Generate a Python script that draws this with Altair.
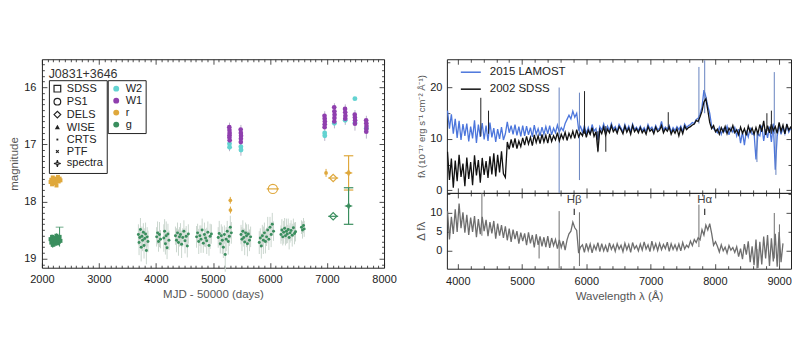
import altair as alt
import pandas as pd

FONT = "Liberation Sans"

# ---------------- Left panel: light curve of J0831+3646 ----------------
crts_mjd = [
    3692, 3704, 3716, 3728, 3741, 3753, 3766, 3779, 3791, 3804, 3818, 3832, 3846, 3860,
    4012, 4028, 4045, 4062, 4080, 4138, 4152, 4166, 4180, 4195, 4210, 4228,
    4342, 4360, 4378, 4395, 4412, 4430, 4450, 4470, 4490, 4510, 4530, 4550, 4568,
    4712, 4730, 4750, 4770, 4790, 4810, 4830, 4850, 4870, 4890, 4910, 4930, 4950, 4972,
    5092, 5110, 5128, 5146, 5164, 5182, 5200, 5215, 5232, 5250, 5268, 5286, 5304, 5322,
    5492, 5508, 5524, 5540, 5556, 5572, 5588, 5604, 5620, 5640, 5660,
    5812, 5830, 5848, 5866, 5884, 5902, 5920, 5940, 5960, 5980, 6000, 6020, 6040, 6062,
    6192, 6208, 6224, 6240, 6256, 6272, 6288, 6304, 6320, 6336, 6352, 6370, 6390, 6410, 6430, 6448,
    6552, 6570, 6588, 6600]
crts_mag = [
    18.58, 18.72, 18.63, 18.49, 18.80, 18.61, 18.68, 18.54, 18.77, 18.65, 18.57, 18.86, 18.62, 18.70,
    18.62, 18.55, 18.70, 18.58, 18.66, 18.64, 18.52, 18.74, 18.60, 18.81, 18.57, 18.68,
    18.60, 18.68, 18.55, 18.72, 18.62, 18.58, 18.75, 18.63, 18.52, 18.69, 18.61, 18.78, 18.57,
    18.62, 18.55, 18.70, 18.60, 18.66, 18.50, 18.73, 18.58, 18.64, 18.69, 18.54, 18.77, 18.61, 18.57,
    18.63, 18.56, 18.74, 18.60, 18.68, 18.80, 18.58, 18.93, 18.66, 18.52, 18.70, 18.61, 18.45, 18.55,
    18.58, 18.66, 18.52, 18.63, 18.71, 18.55, 18.60, 18.74, 18.57, 18.68, 18.62,
    18.72, 18.64, 18.78, 18.60, 18.68, 18.55, 18.70, 18.62, 18.50, 18.66, 18.45, 18.58, 18.40, 18.52,
    18.58, 18.50, 18.62, 18.54, 18.47, 18.60, 18.52, 18.57, 18.49, 18.63, 18.55, 18.51, 18.59, 18.46, 18.56, 18.53,
    18.45, 18.50, 18.42, 18.48]
crts_err = [
    0.18, 0.22, 0.15, 0.20, 0.25, 0.17, 0.19, 0.16, 0.23, 0.18, 0.20, 0.24, 0.17, 0.19,
    0.17, 0.20, 0.18, 0.22, 0.16, 0.24, 0.21, 0.19, 0.25, 0.20, 0.18, 0.17,
    0.16, 0.21, 0.18, 0.23, 0.17, 0.20, 0.24, 0.16, 0.19, 0.22, 0.18, 0.20, 0.17,
    0.19, 0.16, 0.22, 0.18, 0.24, 0.20, 0.17, 0.21, 0.16, 0.23, 0.19, 0.18, 0.22, 0.17,
    0.18, 0.22, 0.17, 0.20, 0.24, 0.19, 0.16, 0.30, 0.21, 0.18, 0.23, 0.17, 0.20, 0.19,
    0.17, 0.21, 0.19, 0.16, 0.23, 0.18, 0.20, 0.22, 0.17, 0.19, 0.18,
    0.20, 0.17, 0.22, 0.19, 0.24, 0.18, 0.21, 0.16, 0.23, 0.19, 0.18, 0.22, 0.20, 0.17,
    0.16, 0.19, 0.15, 0.20, 0.18, 0.17, 0.22, 0.16, 0.19, 0.21, 0.17, 0.18, 0.20, 0.16, 0.19, 0.17,
    0.12, 0.15, 0.13, 0.14]

early_mjd = [2152, 2165, 2178, 2190, 2203, 2216, 2229, 2242, 2255, 2268, 2281, 2294, 2310, 2325]
early_g = [18.66, 18.72, 18.62, 18.76, 18.68, 18.64, 18.74, 18.70, 18.60, 18.67, 18.73, 18.65, 18.62, 18.69]
early_g_err = [0.04, 0.05, 0.04, 0.05, 0.04, 0.04, 0.05, 0.04, 0.04, 0.05, 0.04, 0.04, 0.17, 0.05]
early_r = [17.66, 17.62, 17.70, 17.58, 17.64, 17.68, 17.60, 17.66, 17.72, 17.62, 17.57, 17.65, 17.60, 17.63]

w1_mjd = [5286, 5289, 5292, 5290, 5288, 5293, 5486, 5489, 5492, 5490, 5488,
          6956, 6959, 6962, 6960, 6958, 7126, 7129, 7132, 7130, 7128,
          7316, 7319, 7322, 7320, 7486, 7489, 7492, 7490, 7686, 7689, 7692, 7690, 7688]
w1_mag = [16.70, 16.75, 16.80, 16.84, 16.88, 16.93, 16.74, 16.80, 16.85, 16.90, 16.96,
          16.50, 16.55, 16.60, 16.65, 16.70, 16.35, 16.42, 16.48, 16.54, 16.60,
          16.38, 16.44, 16.50, 16.55, 16.48, 16.53, 16.58, 16.64, 16.58, 16.63, 16.68, 16.73, 16.78]
w2_mjd = [5289, 5291, 5489, 5491, 6959, 6961, 7129, 7319, 7489, 7490, 7689]
w2_mag = [16.99, 17.05, 17.04, 17.10, 16.80, 16.85, 16.63, 16.58, 16.20, 16.62, 16.72]
wise_epoch = [5290, 5490, 6960, 7130, 7320, 7490, 7690]
wise_lo = [16.62, 16.66, 16.42, 16.28, 16.30, 16.40, 16.50]
wise_hi = [17.12, 17.20, 16.94, 16.72, 16.66, 16.76, 16.90]

r_mjd = [5304, 5306, 6983]
r_mag = [17.98, 18.15, 17.50]
r_err = [0.06, 0.06, 0.07]

ps1_mjd = [6050]
ps1_mag = [17.78]
dels_mjd = [7108, 7108]
dels_mag = [17.59, 18.26]
dels_band = ["r", "g"]
spec_mjd = [7378, 7378]
spec_mag = [17.50, 18.08]
spec_err = [0.30, 0.32]
spec_band = ["r", "g"]

legend_inst = ["SDSS", "PS1", "DELS", "WISE", "CRTS", "PTF", "spectra"]
legend_band = ["W2", "W1", "r", "g"]
band_colors = {"W2": "#63d3d1", "W1": "#8f3fae", "r": "#dfa83c", "g": "#3a8e5e"}

# ---------------- Right panel: spectra ----------------
wave = list(range(3840, 9211, 30))
lamost_flux = [
    15.5, 12.0, 14.8, 11.0, 13.9, 10.2, 13.5, 9.8, 12.9, 10.6,
    13.0, 9.5, 12.4, 10.1, 13.6, 9.2, 12.8, 10.4, 13.1, 9.9,
    12.6, 9.6, 13.2, 10.3, 12.1, 9.4, 11.9, 10.0, 12.3, 9.8,
    11.0, 13.3, 11.2, 12.6, 10.9, 12.8, 10.7, 12.4, 10.5, 12.6,
    10.6, 12.5, 10.8, 12.2, 10.4, 12.7, 10.9, 12.0, 10.6, 12.3,
    10.9, 12.4, 11.0, 12.6, 10.8, 12.1, 11.2, 12.7, 11.3, 12.2,
    11.6, 13.0, 13.8, 14.6, 13.9, 15.4, 14.2, 15.0, 11.8, 12.4,
    11.3, 12.6, 11.0, 12.2, 10.9, 12.8, 11.5, 12.0, 9.8, 12.4,
    11.7, 12.9, 11.4, 12.5, 11.6, 13.0, 11.9, 12.4, 11.5, 12.8,
    12.1, 11.4, 12.8, 11.7, 12.5, 11.3, 12.9, 11.8, 12.3, 11.6,
    12.5, 11.6, 12.2, 11.4, 12.8, 11.9, 12.3, 11.5, 12.6, 11.8,
    12.0, 13.4, 11.7, 12.3, 11.9, 12.6, 11.3, 12.2, 11.6, 12.4,
    11.8, 12.5, 11.4, 12.9, 12.2, 12.6, 12.8, 13.2, 13.0, 13.8,
    14.0, 14.8, 16.2, 19.5, 18.2, 16.4, 15.0, 12.5, 12.0, 11.6,
    11.2, 12.3, 10.9, 12.0, 11.4, 12.5, 10.8, 12.1, 11.3, 12.2,
    10.6, 11.9, 9.2, 11.4, 8.8, 11.6, 10.4, 12.2, 10.9, 11.1,
    6.0, 11.0, 10.6, 12.6, 9.6, 11.9, 10.2, 12.4, 9.4, 13.0,
    4.0, 10.5, 12.8, 10.9, 12.2, 11.0, 12.6, 11.3, 12.1, 11.5]
sdss_flux = [
    7.5, 2.0, 6.2, 0.5, 5.8, 1.8, 6.9, 2.6, 5.2, 0.8,
    6.4, 2.2, 5.5, 1.0, 6.8, 2.9, 5.9, 1.5, 6.3, 3.0,
    5.7, 2.4, 6.6, 3.1, 7.2, 2.7, 6.9, 3.5, 7.6, 3.2,
    2.5, 9.4, 8.0, 9.9, 8.3, 10.1, 8.1, 9.6, 8.5, 10.2,
    8.8, 10.5, 9.0, 10.3, 8.7, 10.8, 9.3, 10.6, 9.1, 10.9,
    9.4, 10.7, 9.2, 11.0, 9.5, 10.6, 9.8, 11.2, 9.6, 10.9,
    10.0, 11.3, 9.7, 11.1, 10.2, 11.5, 10.1, 11.8, 10.4, 11.2,
    10.6, 12.0, 10.3, 11.7, 10.9, 12.2, 10.5, 11.4, 7.6, 11.8,
    11.0, 12.3, 10.7, 11.9, 11.2, 12.6, 11.4, 12.0, 11.1, 12.4,
    11.8, 11.0, 12.5, 11.3, 12.1, 10.9, 12.6, 11.4, 12.0, 11.2,
    12.2, 11.2, 11.8, 10.9, 12.4, 11.5, 11.9, 11.0, 12.3, 11.4,
    11.7, 12.6, 11.2, 12.0, 11.5, 12.3, 10.9, 11.8, 11.1, 12.0,
    10.6, 12.1, 11.0, 12.5, 11.8, 12.2, 12.4, 12.7, 12.9, 13.6,
    13.4, 14.3, 15.4, 17.2, 17.8, 15.6, 13.2, 12.0, 12.6, 11.4,
    11.9, 10.9, 12.2, 11.3, 12.4, 11.0, 12.1, 11.5, 12.6, 11.2,
    11.8, 10.8, 12.3, 11.1, 12.0, 10.7, 12.5, 11.3, 12.1, 10.9,
    12.2, 11.0, 12.8, 11.4, 13.5, 10.8, 12.6, 11.2, 12.9, 11.6,
    12.4, 11.1, 13.2, 11.5, 12.7, 11.0, 12.9, 11.7, 12.3, 11.8]
diff_flux = [
    10.5, 3.0, 9.0, 4.5, 11.0, 5.0, 12.5, 6.0, 10.2, 4.8,
    9.5, 4.2, 8.8, 5.0, 9.2, 3.6, 8.4, 4.4, 9.0, 5.2,
    8.2, 3.9, 7.6, 4.6, 7.9, 3.2, 7.2, 4.0, 6.8, 3.4,
    6.5, 2.8, 5.9, 2.4, 5.6, 3.1, 5.2, 1.9, 4.8, 2.6,
    4.6, 1.5, 4.9, 2.0, 4.2, 0.9, 4.4, 1.6, 3.8, 1.2,
    3.6, 1.0, 3.9, 0.8, 3.4, 1.4, 3.0, 0.6, 2.9, 0.9,
    2.6, 0.2, 2.9, 4.5, 5.2, 7.6, 6.1, 5.4, -0.6, 1.0,
    1.6, -0.4, 2.0, 0.1, 1.8, -0.5, 1.5, 0.3, 2.2, -0.2,
    1.9, 0.0, 1.4, -0.3, 2.1, 0.4, 1.6, -0.1, 1.9, 0.5,
    1.5, -0.2, 2.0, 0.3, 1.7, -0.4, 2.2, 0.6, 1.4, 0.0,
    1.8, 0.2, 2.4, 0.5, 1.6, -0.2, 2.6, 0.4, 1.9, 0.1,
    2.0, 0.3, 1.7, 0.6, 2.3, -0.1, 1.9, 0.4, 1.6, 0.2,
    1.8, 0.0, 2.2, 0.5, 1.5, 0.9, 2.6, 1.4, 3.0, 2.2,
    3.5, 2.9, 5.6, 4.2, 6.8, 5.5, 7.2, 4.6, 1.5, 2.4,
    1.2, -0.3, 1.6, 0.0, 1.0, -0.6, 1.4, 0.2, 0.9, -0.4,
    1.1, -1.5, 0.6, -2.2, 1.8, -1.0, 2.5, -3.0, 1.2, -3.8,
    3.0, -4.5, 2.4, -3.6, 3.8, -2.0, 4.2, -4.0, 3.3, -2.8,
    4.5, -4.2, 5.0, -3.0, 2.0]

blue_spike_wave = [5577, 5893, 7752, 7842, 8925, 8950, 8655]
blue_spike_lo = [-0.5, 2.0, 13.0, 15.0, 11.0, 3.0, 5.5]
blue_spike_hi = [20.0, 19.0, 24.0, 25.3, 23.0, 12.0, 11.5]
black_spike_wave = [4358, 4478, 5972, 6303, 7275, 8810, 8880, 6180]
black_spike_lo = [10.5, 11.0, 11.0, 7.5, 12.0, 11.5, 11.0, 7.4]
black_spike_hi = [18.0, 15.5, 19.3, 12.5, 15.2, 15.0, 15.5, 11.5]
diff_spike_wave = [4375, 5265, 5577, 5893, 7752, 8655, 8925, 9005]
diff_spike_lo = [4.0, -2.0, -4.7, -4.0, 1.0, -4.7, -2.0, -4.0]
diff_spike_hi = [15.3, 2.5, 10.5, 10.2, 12.2, 0.5, 10.0, 7.0]

line_wave = [5812, 7842]
line_name = ["H\u03b2", "H\u03b1"]
line_text_y = [13.4, 13.4]
line_tick_lo = [9.5, 9.5]
line_tick_hi = [11.1, 11.1]

series_names = ["2015 LAMOST", "2002 SDSS"]
series_colors = ["#4c76dc", "#111111"]

# ---------------- helpers ----------------
def tick_axis(orient, offset, values, test, big, small):
    return alt.Axis(orient=orient, offset=offset, values=values, labels=False,
                    domain=False, grid=False, title=None, ticks=True,
                    tickColor="#222", tickWidth=0.8,
                    tickSize={"condition": {"test": test, "value": big}, "value": small})

# ---- left chart ----
W_L, H_L = 343, 209
xs_L = alt.Scale(domain=[2000, 8000], nice=False, zero=False)
ys_L = alt.Scale(domain=[15.51, 19.16], reverse=True, nice=False, zero=False)


def LX(f, axis=None):
    return alt.X(f"{f}:Q", scale=xs_L, axis=axis)


def LY(f, axis=None):
    return alt.Y(f"{f}:Q", scale=ys_L, axis=axis)


ax_lx_lab = alt.Axis(orient="bottom", values=list(range(2000, 8001, 1000)), ticks=False,
                     domain=False, grid=False, labelFlush=False, labelPadding=6, format="d",
                     title="MJD - 50000 (days)", titlePadding=4)
ax_ly_lab = alt.Axis(orient="left", values=[16, 17, 18, 19], ticks=False, domain=False,
                     grid=False, labelPadding=6, format="d", title="magnitude", titlePadding=4)
x_minor_L = list(range(2000, 8001, 100))
y_minor_L = [round(15.6 + 0.1 * i, 1) for i in range(36)]
tx = "datum.value % 1000 === 0"
ty = "abs(datum.value - round(datum.value)) < 0.01"
ax_lx_bot = tick_axis("top", -H_L, x_minor_L, tx, 5, 2.5)
ax_lx_top = tick_axis("bottom", -H_L, x_minor_L, tx, 5, 2.5)
ax_ly_left = tick_axis("right", -W_L, y_minor_L, ty, 5, 2.5)
ax_ly_right = tick_axis("left", -W_L, y_minor_L, ty, 5, 2.5)

crts_df = pd.DataFrame({"mjd": crts_mjd, "mag": crts_mag, "err": crts_err})
early_df = pd.DataFrame({"mjd": early_mjd, "g": early_g, "gerr": early_g_err, "r": early_r})
w1_df = pd.DataFrame({"mjd": w1_mjd, "mag": w1_mag})
w2_df = pd.DataFrame({"mjd": w2_mjd, "mag": w2_mag})
wise_df = pd.DataFrame({"mjd": wise_epoch, "lo": wise_lo, "hi": wise_hi})
r_df = pd.DataFrame({"mjd": r_mjd, "mag": r_mag, "err": r_err})
ps1_df = pd.DataFrame({"mjd": ps1_mjd, "mag": ps1_mag})
dels_df = pd.DataFrame({"mjd": dels_mjd, "mag": dels_mag, "band": dels_band})
spec_df = pd.DataFrame({"mjd": spec_mjd, "mag": spec_mag, "err": spec_err, "band": spec_band})
name_df = pd.DataFrame({"mjd": [2118], "mag": [15.77], "label": ["J0831+3646"]})

errcalc = dict(lo="datum.mag - datum.err", hi="datum.mag + datum.err")

left_layers = [
    alt.Chart(crts_df).transform_calculate(**errcalc).mark_rule(color="#cad6ce", strokeWidth=1)
    .encode(x=LX("mjd", ax_lx_lab), y=LY("lo", ax_ly_lab), y2="hi:Q"),
    alt.Chart(crts_df).mark_circle(color=band_colors["g"], size=9, opacity=1)
    .encode(x=LX("mjd", ax_lx_bot), y=LY("mag", ax_ly_left)),
    alt.Chart(early_df).transform_calculate(lo="datum.g - datum.gerr", hi="datum.g + datum.gerr")
    .mark_rule(color=band_colors["g"], strokeWidth=1)
    .encode(x=LX("mjd", ax_lx_top), y=LY("lo", ax_ly_right), y2="hi:Q"),
    alt.Chart(early_df).transform_calculate(c="datum.g - datum.gerr")
    .transform_filter("datum.gerr > 0.1")
    .mark_point(shape="stroke", size=60, color=band_colors["g"], strokeWidth=1)
    .encode(x=LX("mjd"), y=LY("c")),
    alt.Chart(early_df).mark_square(color=band_colors["g"], size=16, opacity=1)
    .encode(x=LX("mjd"), y=LY("g")),
    alt.Chart(early_df).mark_square(color=band_colors["r"], size=16, opacity=1)
    .encode(x=LX("mjd"), y=LY("r")),
    alt.Chart(wise_df).mark_rule(color="#b9b3c8", strokeWidth=1)
    .encode(x=LX("mjd"), y=LY("lo"), y2="hi:Q"),
    alt.Chart(w2_df).mark_circle(color=band_colors["W2"], size=24, opacity=1)
    .encode(x=LX("mjd"), y=LY("mag")),
    alt.Chart(w1_df).mark_circle(color=band_colors["W1"], size=22, opacity=1)
    .encode(x=LX("mjd"), y=LY("mag")),
    alt.Chart(r_df).transform_calculate(**errcalc).mark_rule(color=band_colors["r"], strokeWidth=1)
    .encode(x=LX("mjd"), y=LY("lo"), y2="hi:Q"),
    alt.Chart(r_df).mark_circle(color=band_colors["r"], size=14, opacity=1)
    .encode(x=LX("mjd"), y=LY("mag")),
    alt.Chart(ps1_df).mark_point(shape="circle", filled=False, size=85, strokeWidth=1.2,
                                 color=band_colors["r"], opacity=1)
    .encode(x=LX("mjd"), y=LY("mag")),
    alt.Chart(ps1_df).mark_point(shape="stroke", size=150, strokeWidth=1.2,
                                 color=band_colors["r"], opacity=1)
    .encode(x=LX("mjd"), y=LY("mag")),
    alt.Chart(name_df).mark_text(align="left", baseline="middle", fontSize=12.5, color="#333")
    .encode(x=LX("mjd"), y=LY("mag"), text="label:N"),
]

for b in ["r", "g"]:
    c = band_colors[b]
    d = dels_df[dels_df.band == b]
    s = spec_df[spec_df.band == b]
    left_layers += [
        alt.Chart(d).mark_point(shape="diamond", filled=False, size=55, strokeWidth=1.2,
                                color=c, opacity=1).encode(x=LX("mjd"), y=LY("mag")),
        alt.Chart(d).mark_point(shape="stroke", size=100, strokeWidth=1.2, color=c, opacity=1)
        .encode(x=LX("mjd"), y=LY("mag")),
        alt.Chart(s).transform_calculate(**errcalc).mark_rule(color=c, strokeWidth=1.2)
        .encode(x=LX("mjd"), y=LY("lo"), y2="hi:Q"),
        alt.Chart(s).transform_calculate(**errcalc)
        .mark_point(shape="stroke", size=90, strokeWidth=1.2, color=c, opacity=1)
        .encode(x=LX("mjd"), y=LY("lo")),
        alt.Chart(s).transform_calculate(**errcalc)
        .mark_point(shape="stroke", size=90, strokeWidth=1.2, color=c, opacity=1)
        .encode(x=LX("mjd"), y=LY("hi")),
        alt.Chart(s).mark_point(
            shape="M0,-1L0.3,-0.3L1,0L0.3,0.3L0,1L-0.3,0.3L-1,0L-0.3,-0.3Z",
            filled=True, size=75, color=c, opacity=1)
        .encode(x=LX("mjd"), y=LY("mag")),
    ]

inst_shapes = ["square", "circle", "diamond",
               "M0,-0.5L0.45,0.3L-0.45,0.3Z",
               "M-0.1,-0.1L0.1,-0.1L0.1,0.1L-0.1,0.1Z",
               "M-0.4,-0.4L0.4,0.4M-0.4,0.4L0.4,-0.4",
               "M0,-1L0.2,-0.2L1,0L0.2,0.2L0,1L-0.2,0.2L-1,0L-0.2,-0.2Z"]
leg_inst_df = pd.DataFrame({"inst": legend_inst, "mjd": [1000] * len(legend_inst),
                            "mag": [17.0] * len(legend_inst)})
leg_band_df = pd.DataFrame({"band": legend_band, "mjd": [1000] * len(legend_band),
                            "mag": [17.0] * len(legend_band)})

left_layers += [
    alt.Chart(leg_inst_df).mark_point(clip=True, color="#222", filled=False, size=45)
    .encode(x=LX("mjd"), y=LY("mag"),
            shape=alt.Shape("inst:N", scale=alt.Scale(domain=legend_inst, range=inst_shapes),
                            legend=alt.Legend(
                                orient="none", legendX=7, legendY=21, title=None,
                                strokeColor="#222", fillColor="white", padding=3,
                                rowPadding=0, symbolSize=45, symbolStrokeWidth=1.2,
                                symbolStrokeColor="#222", symbolFillColor="transparent",
                                symbolOpacity=1, labelFontSize=11, labelOffset=4))),
    alt.Chart(leg_band_df).mark_circle(clip=True, size=35, opacity=1)
    .encode(x=LX("mjd"), y=LY("mag"),
            color=alt.Color("band:N",
                            scale=alt.Scale(domain=legend_band,
                                            range=[band_colors[b] for b in legend_band]),
                            legend=alt.Legend(
                                orient="none", legendX=66, legendY=21, title=None,
                                strokeColor="#222", fillColor="white", padding=3,
                                rowPadding=0, symbolSize=35, symbolType="circle",
                                labelFontSize=11, labelOffset=4))),
]

left = alt.layer(*left_layers).resolve_axis(x="independent", y="independent") \
    .properties(width=W_L, height=H_L)

# ---- right charts ----
W_R, H_T, H_B = 345, 134, 76
xs_R = alt.Scale(domain=[3830, 9185], nice=False, zero=False)
ys_T = alt.Scale(domain=[-0.5, 25.5], nice=False, zero=False)
ys_B = alt.Scale(domain=[-4.7, 15.3], nice=False, zero=False)


def RX(f, axis=None):
    return alt.X(f"{f}:Q", scale=xs_R, axis=axis)


def TY(f, axis=None):
    return alt.Y(f"{f}:Q", scale=ys_T, axis=axis)


def BY(f, axis=None):
    return alt.Y(f"{f}:Q", scale=ys_B, axis=axis)


x_minor_R = list(range(4000, 9001, 200))
txr = "datum.value % 1000 === 0"
tyr = "datum.value % 10 === 0"
ax_tx_top = tick_axis("bottom", -H_T, x_minor_R, txr, 5, 3)
ax_tx_bot = tick_axis("top", -H_T, x_minor_R, txr, 5, 3)
ax_ty_lab = alt.Axis(orient="left", values=[0, 10, 20], ticks=False, domain=False, grid=False,
                     labelPadding=5, format="d", titlePadding=3, titleFontSize=9.5,
                     title="f\u03bb (10\u207b\u00b9\u2077 erg s\u207b\u00b9 cm\u207b\u00b2 \u00c5\u207b\u00b9)")
ax_ty_left = tick_axis("right", -W_R, [0, 5, 10, 15, 20, 25], tyr, 5, 3)
ax_ty_right = tick_axis("left", -W_R, [0, 5, 10, 15, 20, 25], tyr, 5, 3)

ax_bx_lab = alt.Axis(orient="bottom", values=list(range(4000, 9001, 1000)), ticks=False,
                     domain=False, grid=False, labelFlush=False, labelPadding=7, format="d",
                     title="Wavelength \u03bb (\u00c5)", titlePadding=4)
ax_bx_bot = tick_axis("top", -H_B, x_minor_R, txr, 5, 3)
ax_bx_top = tick_axis("bottom", -H_B, x_minor_R, txr, 5, 3)
ax_by_lab = alt.Axis(orient="left", values=[0, 5, 10], ticks=False, domain=False, grid=False,
                     labelPadding=5, format="d", titlePadding=3, title="\u0394 f\u03bb")
ax_by_left = tick_axis("right", -W_R, [0, 5, 10, 15], tyr, 5, 3)
ax_by_right = tick_axis("left", -W_R, [0, 5, 10, 15], tyr, 5, 3)

blue_df = pd.DataFrame({"wave": wave, "flux": lamost_flux, "series": series_names[0]})
black_df = pd.DataFrame({"wave": wave, "flux": sdss_flux, "series": series_names[1]})
diff_df = pd.DataFrame({"wave": wave[:len(diff_flux)], "flux": diff_flux})
bspk_df = pd.DataFrame({"wave": blue_spike_wave, "lo": blue_spike_lo, "hi": blue_spike_hi})
kspk_df = pd.DataFrame({"wave": black_spike_wave, "lo": black_spike_lo, "hi": black_spike_hi})
dspk_df = pd.DataFrame({"wave": diff_spike_wave, "lo": diff_spike_lo, "hi": diff_spike_hi})
hl_df = pd.DataFrame({"wave": line_wave, "name": line_name, "ty": line_text_y,
                      "lo": line_tick_lo, "hi": line_tick_hi})

ser_legend = alt.Legend(orient="none", legendX=13, legendY=2, title=None, symbolType="stroke",
                        symbolSize=400, symbolStrokeWidth=1.5, labelFontSize=11.5,
                        rowPadding=-8, padding=0, labelOffset=8)
ser_color = dict(scale=alt.Scale(domain=series_names, range=series_colors), legend=ser_legend)

top = alt.layer(
    alt.Chart(blue_df).mark_line(strokeWidth=1.3, clip=True)
    .encode(x=RX("wave", ax_tx_top), y=TY("flux", ax_ty_lab),
            color=alt.Color("series:N", **ser_color)),
    alt.Chart(bspk_df).mark_rule(color="#6683c0", strokeWidth=1, clip=True)
    .encode(x=RX("wave"), y=TY("lo", ax_ty_right), y2="hi:Q"),
    alt.Chart(black_df).mark_line(strokeWidth=1.3, clip=True)
    .encode(x=RX("wave", ax_tx_bot), y=TY("flux", ax_ty_left),
            color=alt.Color("series:N", **ser_color)),
    alt.Chart(kspk_df).mark_rule(color="#222", strokeWidth=1, clip=True)
    .encode(x=RX("wave"), y=TY("lo"), y2="hi:Q"),
).resolve_axis(x="independent", y="independent").properties(width=W_R, height=H_T)

bottom = alt.layer(
    alt.Chart(diff_df).mark_line(color="#6e6e6e", strokeWidth=1.3, clip=True)
    .encode(x=RX("wave", ax_bx_lab), y=BY("flux", ax_by_lab)),
    alt.Chart(dspk_df).mark_rule(color="#6e6e6e", strokeWidth=1, clip=True)
    .encode(x=RX("wave", ax_bx_bot), y=BY("lo", ax_by_left), y2="hi:Q"),
    alt.Chart(hl_df).mark_text(fontSize=11.5, color="#444", baseline="middle")
    .encode(x=RX("wave", ax_bx_top), y=BY("ty", ax_by_right), text="name:N"),
    alt.Chart(hl_df).mark_rule(color="#333", strokeWidth=1.2)
    .encode(x=RX("wave"), y=BY("lo"), y2="hi:Q"),
).resolve_axis(x="independent", y="independent").properties(width=W_R, height=H_B)

right = alt.vconcat(top, bottom, spacing=0, bounds="flush")

chart = alt.hconcat(left, right, spacing=63, bounds="flush").resolve_scale(
    color="independent", shape="independent"
).properties(
    padding={"left": 0, "top": 50, "right": 0, "bottom": 0}
).configure_view(
    stroke="#222", strokeWidth=1
).configure_axis(
    labelFont=FONT, titleFont=FONT, labelFontSize=11, titleFontSize=11.5,
    labelColor="#222", titleColor="#555", titleFontWeight="normal"
).configure_legend(
    labelFont=FONT, labelColor="#222"
).configure_text(font=FONT)

chart.save("out.html", embed_options={"renderer": "svg", "actions": False})
